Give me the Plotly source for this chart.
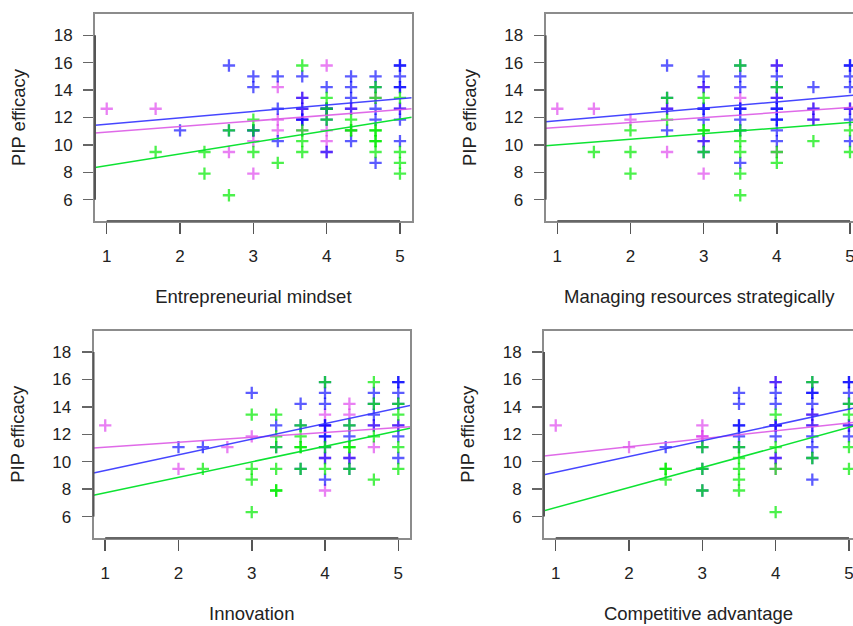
import plotly.graph_objects as go

# ---------------- data ----------------
GROUP_NAMES = ["Group 1", "Group 2", "Group 3"]  # magenta, blue, green
PANEL_TITLES = ["Entrepreneurial mindset", "Managing resources strategically",
                "Innovation", "Competitive advantage"]
Y_TITLE = "PIP efficacy"
Y_TICKS = [6, 8, 10, 12, 14, 16, 18]
X_TICKS = [1, 2, 3, 4, 5]

# Panel 1: Entrepreneurial mindset
em_mag_x = [1, 1.667, 2.667, 3, 3, 3.333, 3.333, 3.333, 3.667, 3.667, 3.667, 3.667,
            4, 4, 4, 4, 4, 4.333, 4.333, 4.667, 5]
em_mag_y = [12.64, 12.64, 9.48, 10.27, 7.9, 14.22, 11.85, 11.06, 13.43, 12.64, 11.85, 11.06,
            15.8, 12.64, 11.06, 10.27, 9.48, 12.64, 11.06, 13.43, 12.64]
em_blu_x = [2, 2.667, 2.667, 3, 3, 3, 3, 3.333, 3.333, 3.333, 3.667, 3.667, 3.667, 3.667, 3.667,
            4, 4, 4, 4, 4, 4.333, 4.333, 4.333, 4.333, 4.333, 4.667, 4.667, 4.667, 4.667, 4.667,
            5, 5, 5, 5, 5, 5, 5, 5]
em_blu_y = [11.06, 15.8, 11.06, 15.01, 14.22, 11.06, 11.06, 15.01, 12.64, 10.27, 15.01, 13.43, 12.64, 11.85, 11.85,
            14.22, 12.64, 12.64, 11.85, 9.48, 15.01, 14.22, 13.43, 12.64, 10.27, 15.01, 14.22, 12.64, 11.85, 8.69,
            15.8, 15.8, 15.01, 14.22, 14.22, 12.64, 11.85, 10.27]
em_grn_x = [1.667, 2.333, 2.333, 2.667, 2.667, 3, 3, 3, 3.333, 3.667, 3.667, 3.667, 3.667,
            4, 4, 4, 4.333, 4.333, 4.333, 4.667, 4.667, 4.667, 4.667, 4.667, 4.667, 4.667,
            5, 5, 5, 5]
em_grn_y = [9.48, 9.48, 7.9, 11.06, 6.32, 11.85, 11.06, 9.48, 8.69, 15.8, 11.06, 10.27, 9.48,
            13.43, 12.64, 11.85, 11.85, 11.06, 11.06, 14.22, 13.43, 11.06, 11.06, 10.27, 10.27, 9.48,
            13.43, 9.48, 8.69, 7.9]
em_fit_intercept = [10.52, 11.05, 7.64]
em_fit_slope = [0.41, 0.465, 0.85]

# Panel 2: Managing resources strategically
mr_mag_x = [1, 1.5, 2, 2.5, 2.5, 3, 3, 3, 3.5, 4, 4, 4, 4.5, 4.5, 5]
mr_mag_y = [12.64, 12.64, 11.85, 12.64, 9.48, 14.22, 10.27, 7.9, 13.43, 15.8, 13.43, 9.48, 12.64, 11.85, 12.64]
mr_blu_x = [2.5, 2.5, 2.5, 2.5, 3, 3, 3, 3, 3, 3, 3, 3.5, 3.5, 3.5, 3.5, 3.5, 3.5, 3.5, 3.5,
            4, 4, 4, 4, 4, 4, 4, 4, 4, 4, 4.5, 4.5, 4.5, 5, 5, 5, 5, 5, 5, 5]
mr_blu_y = [15.8, 13.43, 12.64, 11.06, 15.01, 14.22, 12.64, 12.64, 11.85, 10.27, 9.48,
            15.8, 15.01, 14.22, 12.64, 12.64, 11.85, 11.06, 8.69,
            15.8, 15.01, 14.22, 13.43, 12.64, 12.64, 11.85, 11.85, 11.06, 10.27,
            14.22, 12.64, 11.85, 15.8, 15.8, 15.01, 14.22, 12.64, 11.85, 10.27]
mr_grn_x = [1.5, 2, 2, 2, 2.5, 2.5, 3, 3, 3, 3, 3.5, 3.5, 3.5, 3.5, 3.5, 3.5,
            4, 4, 4, 4.5, 5, 5]
mr_grn_y = [9.48, 11.06, 9.48, 7.9, 13.43, 11.85, 13.43, 11.06, 11.06, 9.48, 15.8, 11.06, 10.27, 9.48, 7.9, 6.32,
            14.22, 9.48, 8.69, 10.27, 11.06, 9.48]
mr_fit_intercept = [10.9, 11.31, 9.59]
mr_fit_slope = [0.365, 0.458, 0.41]

# Panel 3: Innovation
in_mag_x = [1, 2, 2.667, 3, 4, 4, 4, 4, 4.333, 4.333, 4.333, 4.667, 4.667, 5]
in_mag_y = [12.64, 9.48, 11.06, 11.85, 13.43, 12.64, 10.27, 7.9, 14.22, 13.43, 10.27, 12.64, 11.06, 12.64]
in_blu_x = [2, 2.333, 3, 3.333, 3.333, 3.667, 3.667, 3.667, 4, 4, 4, 4, 4, 4, 4, 4, 4, 4,
            4.333, 4.333, 4.333, 4.333, 4.667, 4.667, 4.667, 4.667, 5, 5, 5, 5, 5, 5, 5]
in_blu_y = [11.06, 11.06, 15.01, 12.64, 11.06, 14.22, 12.64, 9.48, 15.8, 15.01, 14.22, 12.64, 12.64, 11.85, 11.85,
            11.06, 10.27, 8.69, 12.64, 11.85, 10.27, 9.48, 15.01, 14.22, 13.43, 12.64,
            15.8, 15.8, 15.01, 14.22, 12.64, 11.85, 10.27]
in_grn_x = [2.333, 3, 3, 3, 3, 3.333, 3.333, 3.333, 3.333, 3.333, 3.333, 3.667, 3.667, 3.667, 3.667, 3.667,
            4, 4, 4, 4.333, 4.333, 4.333, 4.333, 4.667, 4.667, 4.667, 4.667, 5, 5, 5, 5]
in_grn_y = [9.48, 13.43, 9.48, 8.69, 6.32, 13.43, 11.85, 11.06, 9.48, 7.9, 7.9, 12.64, 11.85, 11.06, 11.06, 9.48,
            15.8, 11.06, 9.48, 12.64, 11.06, 11.06, 9.48, 15.8, 14.22, 11.85, 8.69, 14.22, 13.43, 11.06, 9.48]
in_fit_intercept = [10.69, 8.22, 6.6]
in_fit_slope = [0.36, 1.14, 1.13]

# Panel 4: Competitive advantage
ca_mag_x = [1, 2, 3, 3, 3, 4, 4, 4, 4, 4.5, 4.5, 5]
ca_mag_y = [12.64, 11.06, 12.64, 11.85, 11.85, 15.8, 12.64, 10.27, 9.48, 13.43, 12.64, 12.64]
ca_blu_x = [2.5, 3, 3, 3, 3.5, 3.5, 3.5, 3.5, 3.5, 3.5, 4, 4, 4, 4, 4, 4, 4,
            4.5, 4.5, 4.5, 4.5, 4.5, 4.5, 4.5, 4.5, 4.5, 4.5, 5, 5, 5, 5, 5, 5]
ca_blu_y = [11.06, 11.06, 9.48, 7.9, 15.01, 14.22, 12.64, 12.64, 11.85, 11.06,
            15.8, 15.01, 14.22, 12.64, 12.64, 11.85, 10.27,
            15.8, 15.01, 15.01, 14.22, 13.43, 12.64, 11.85, 11.06, 10.27, 8.69,
            15.8, 15.8, 15.01, 14.22, 12.64, 11.85]
ca_grn_x = [2.5, 2.5, 2.5, 3, 3, 3, 3.5, 3.5, 3.5, 3.5, 3.5, 4, 4, 4, 4, 4.5, 4.5, 5, 5, 5, 5]
ca_grn_y = [9.48, 9.48, 8.69, 11.06, 9.48, 7.9, 11.06, 10.27, 9.48, 8.69, 7.9, 13.43, 11.06, 9.48, 6.32,
            15.8, 10.27, 14.22, 13.43, 11.06, 9.48]
ca_fit_intercept = [9.93, 8.08, 5.2]
ca_fit_slope = [0.58, 1.15, 1.46]

# ---------------- styling ----------------
MARKER_COLORS = ["rgba(220,50,235,0.62)", "rgba(0,0,255,0.64)", "rgba(0,235,0,0.7)"]
LINE_COLORS = ["rgba(220,90,230,0.9)", "rgba(50,50,255,0.9)", "rgba(0,225,40,0.95)"]
FONT = "Liberation Sans, Arial, Helvetica, sans-serif"

panels = [
    dict(title=PANEL_TITLES[0], xs=[em_mag_x, em_blu_x, em_grn_x], ys=[em_mag_y, em_blu_y, em_grn_y],
         a=em_fit_intercept, b=em_fit_slope,
         xdom=[95 / 853, 411.7 / 853], ydom=[1 - 221 / 626, 1 - 14 / 626], xr=[0.84, 5.16], right=False),
    dict(title=PANEL_TITLES[1], xs=[mr_mag_x, mr_blu_x, mr_grn_x], ys=[mr_mag_y, mr_blu_y, mr_grn_y],
         a=mr_fit_intercept, b=mr_fit_slope,
         xdom=[545.6 / 853, 1.0], ydom=[1 - 221 / 626, 1 - 14 / 626], xr=[0.84, 5.041], right=True),
    dict(title=PANEL_TITLES[2], xs=[in_mag_x, in_blu_x, in_grn_x], ys=[in_mag_y, in_blu_y, in_grn_y],
         a=in_fit_intercept, b=in_fit_slope,
         xdom=[93.5 / 853, 410 / 853], ydom=[1 - 538 / 626, 1 - 330.5 / 626], xr=[0.84, 5.16], right=False),
    dict(title=PANEL_TITLES[3], xs=[ca_mag_x, ca_blu_x, ca_grn_x], ys=[ca_mag_y, ca_blu_y, ca_grn_y],
         a=ca_fit_intercept, b=ca_fit_slope,
         xdom=[544 / 853, 1.0], ydom=[1 - 538 / 626, 1 - 330.5 / 626], xr=[0.84, 5.055], right=True),
]
Y_RANGE = [4.44, 19.56]

fig = go.Figure()
layout = dict(width=853, height=626, margin=dict(l=0, r=0, t=0, b=0, autoexpand=False),
              paper_bgcolor="white", plot_bgcolor="white", showlegend=False,
              hovermode=False, font=dict(family=FONT, color="#222"))
shapes = []

for i, p in enumerate(panels):
    n = "" if i == 0 else str(i + 1)
    xa, ya = "x" + n, "y" + n
    for g in range(3):
        fig.add_trace(go.Scatter(
            x=p["xs"][g], y=p["ys"][g], mode="markers", name=GROUP_NAMES[g],
            xaxis=xa, yaxis=ya,
            marker=dict(symbol="cross-thin", size=8.8,
                        line=dict(color=MARKER_COLORS[g], width=2.3))))
    for g in range(3):
        lx = p["xr"]
        ly = [p["a"][g] + p["b"][g] * v for v in lx]
        fig.add_trace(go.Scatter(x=lx, y=ly, mode="lines", name=GROUP_NAMES[g] + " fit",
                                 xaxis=xa, yaxis=ya,
                                 line=dict(color=LINE_COLORS[g], width=1.5)))
    layout["xaxis" + n] = dict(
        domain=p["xdom"], range=p["xr"], anchor=ya, tickvals=X_TICKS, automargin=False,
        ticks="outside", ticklen=11, tickwidth=1.5, tickcolor="#555",
        showline=True, linecolor="#8c8c8c", linewidth=2, mirror=True,
        showgrid=False, zeroline=False, ticklabelstandoff=8, ticklabeloverflow="allow",
        tickfont=dict(family=FONT, size=17, color="#222"),
        title=dict(text=p["title"], font=dict(family=FONT, size=18.5, color="#222"), standoff=25))
    layout["yaxis" + n] = dict(
        domain=p["ydom"], range=Y_RANGE, anchor=xa, tickvals=Y_TICKS, automargin=False,
        ticks="outside", ticklen=10, tickwidth=1.5, tickcolor="#666",
        showline=True, linecolor="#8c8c8c", linewidth=2, mirror=not p["right"],
        showgrid=False, zeroline=False, ticklabelstandoff=7, ticklabeloverflow="allow",
        tickfont=dict(family=FONT, size=17, color="#222"),
        title=dict(text=Y_TITLE, font=dict(family=FONT, size=18.5, color="#222"), standoff=23))
    shapes.append(dict(type="line", xref=xa + " domain", yref=ya, x0=0, x1=0,
                       y0=Y_TICKS[0], y1=Y_TICKS[-1], line=dict(color="#555", width=2)))
    shapes.append(dict(type="line", xref=xa, yref=ya + " domain", x0=X_TICKS[0], x1=X_TICKS[-1],
                       y0=0, y1=0, line=dict(color="#666", width=2)))

layout["shapes"] = shapes
fig.update_layout(**layout)
fig.write_html("out.html", config={"displayModeBar": False, "staticPlot": True},
               post_script="document.body.style.margin='0';document.body.style.overflow='hidden';")
